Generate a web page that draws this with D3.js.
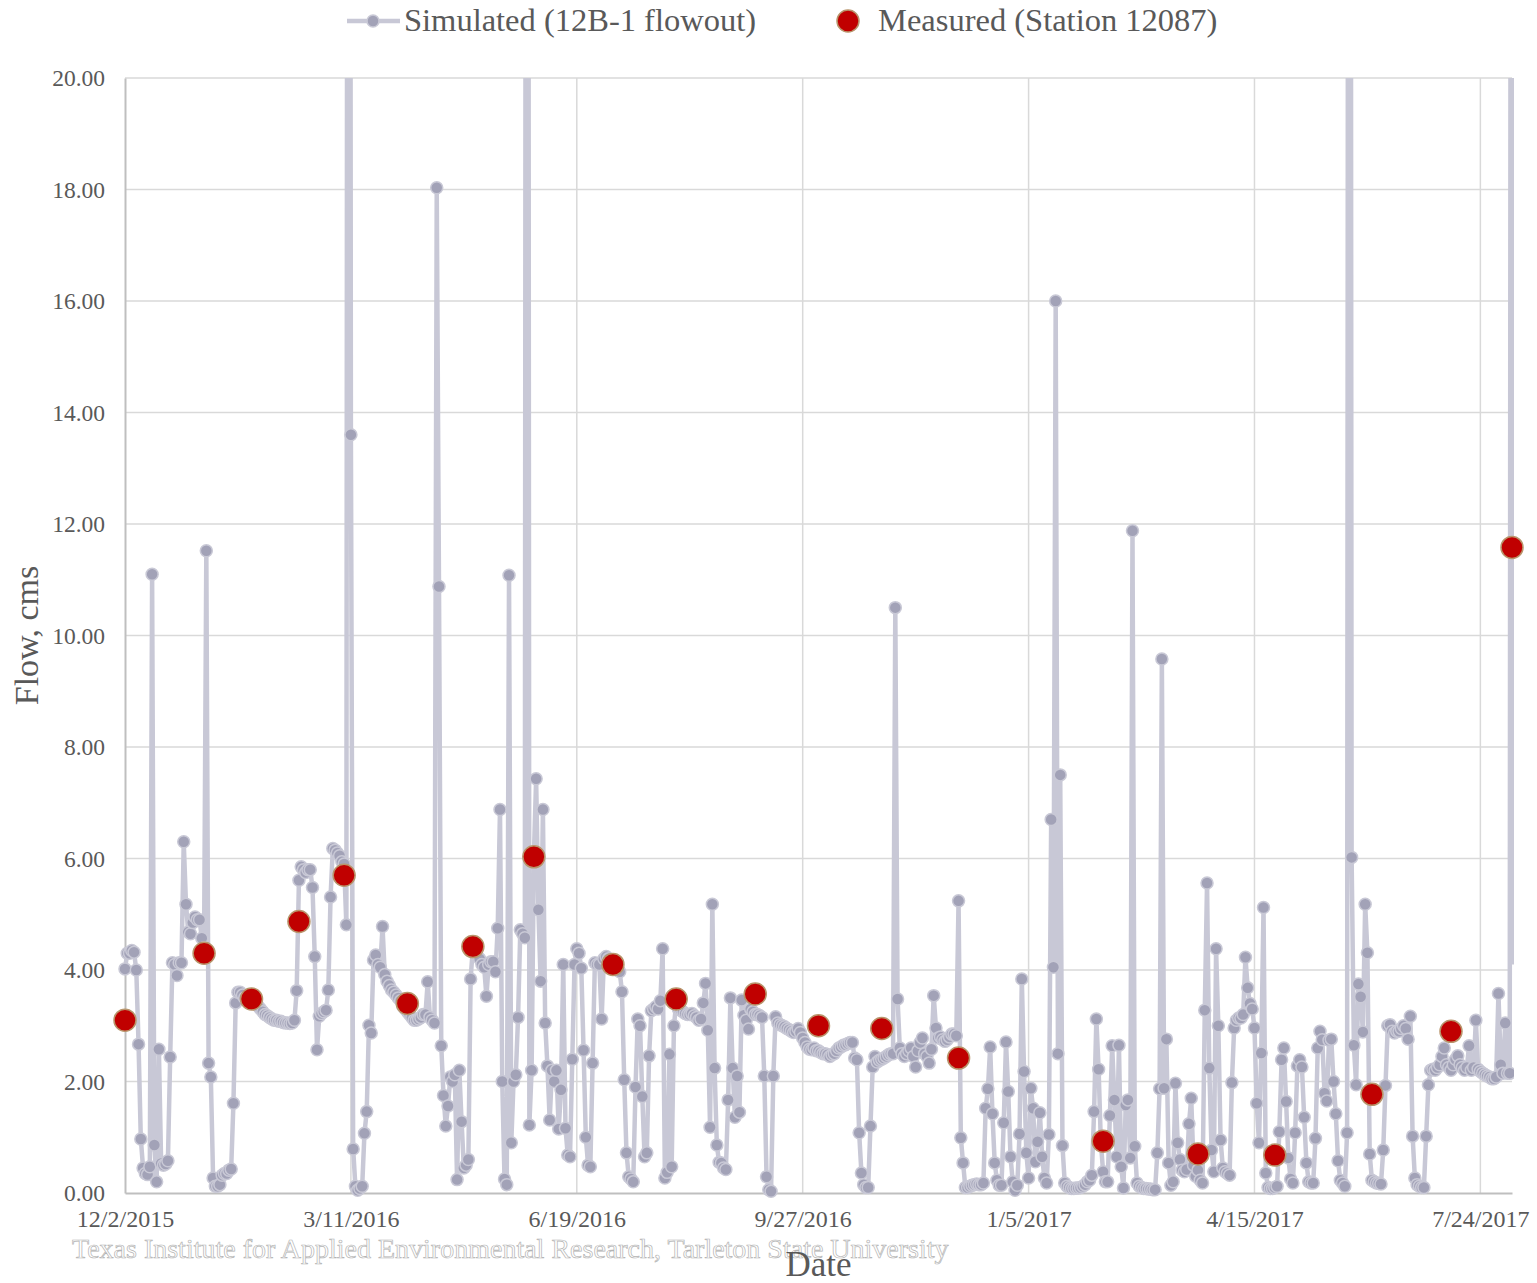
<!DOCTYPE html>
<html>
<head>
<meta charset="utf-8">
<script src="https://cdn.jsdelivr.net/npm/d3@7"></script>
<style>
  body { margin: 0; background: #fff; }
  svg { display: block; font-family: "Liberation Serif", "DejaVu Serif", serif; }
</style>
</head>
<body>
<div id="chart"></div>
<script>
// simulated daily flow (cms), one value per day starting 12/2/2015
const startDate = "12/2/2015";
const endDate = "8/7/2017";
const simFlow = [
  4.02, 4.3, 4.3, 4.35, 4.32, 4.0, 2.67, 0.97, 0.45, 0.35,
  0.33, 0.47, 11.1, 0.86, 0.2, 2.58, 0.53, 0.5, 0.52, 0.58,
  2.44, 4.13, 4.1, 3.9, 4.13, 4.13, 6.3, 5.18, 4.68, 4.65,
  4.85, 4.95, 4.9, 4.9, 4.57, 4.4, 11.52, 2.33, 2.08, 0.27,
  0.12, 0.12, 0.15, 0.32, 0.35, 0.35, 0.41, 0.43, 1.61, 3.41,
  3.6, 3.6, 3.55, 3.5, 3.48, 3.45, 3.45, 3.42, 3.38, 3.35,
  3.3, 3.25, 3.2, 3.18, 3.15, 3.12, 3.1, 3.1, 3.08, 3.08,
  3.06, 3.05, 3.05, 3.04, 3.05, 3.1, 3.63, 5.61, 5.85, 5.8,
  5.75, 5.8, 5.8, 5.48, 4.24, 2.57, 3.17, 3.22, 3.25, 3.28,
  3.64, 5.31, 6.18, 6.15, 6.1, 6.05, 5.94, 5.9, 4.81, 60,
  13.6, 0.79, 0.12, 0.05, 0.08, 0.12, 1.07, 1.46, 3.01, 2.87,
  4.18, 4.27, 4.1, 4.05, 4.78, 3.92, 3.8, 3.72, 3.64, 3.6,
  3.55, 3.5, 3.45, 3.35, 3.3, 3.25, 3.2, 3.15, 3.1, 3.1,
  3.12, 3.15, 3.2, 3.2, 3.79, 3.15, 3.1, 3.05, 18.03, 10.88,
  2.64, 1.75, 1.2, 1.56, 2.08, 2.0, 2.12, 0.24, 2.2, 1.28,
  0.45, 0.5, 0.6, 3.84, 4.4, 4.3, 4.25, 4.2, 4.1, 4.05,
  3.53, 4.1, 4.15, 4.15, 3.97, 4.75, 6.88, 2.0, 0.25, 0.15,
  11.08, 0.9, 2.0, 2.12, 3.15, 4.72, 4.65, 4.58, 60, 1.22,
  2.2, 6.03, 7.43, 5.08, 3.8, 6.88, 3.05, 2.28, 1.31, 2.2,
  2.0, 2.2, 1.15, 1.85, 4.1, 1.16, 0.68, 0.65, 2.4, 4.1,
  4.38, 4.3, 4.03, 2.56, 1.0, 0.5, 0.47, 2.33, 4.13, 4.1,
  4.1, 3.12, 4.2, 4.24, 4.2, 4.15, 4.1, 4.05, 4.0, 3.97,
  3.61, 2.03, 0.72, 0.29, 0.25, 0.2, 1.9, 3.12, 3.0, 1.73,
  0.65, 0.72, 2.46, 3.27, 3.3, 3.34, 3.3, 3.45, 4.38, 0.27,
  0.37, 2.49, 0.47, 3.0, 3.4, 3.3, 3.28, 3.25, 3.22, 3.2,
  3.2, 3.22, 3.18, 3.15, 3.1, 3.12, 3.41, 3.76, 2.92, 1.18,
  5.18, 2.24, 0.86, 0.55, 0.54, 0.45, 0.42, 1.67, 3.5, 2.24,
  1.36, 2.1, 1.45, 3.46, 3.19, 3.1, 2.94, 3.3, 3.25, 3.2,
  3.2, 3.18, 3.15, 2.1, 0.29, 0.06, 0.03, 2.1, 3.16, 3.05,
  3.02, 3.0, 2.98, 2.95, 2.93, 2.9, 2.88, 2.9, 2.95, 2.88,
  2.78, 2.7, 2.62, 2.58, 2.57, 2.6, 2.55, 2.55, 2.52, 2.5,
  2.5, 2.48, 2.45, 2.48, 2.5, 2.55, 2.6, 2.62, 2.65, 2.66,
  2.68, 2.7, 2.7, 2.42, 2.39, 1.08, 0.36, 0.15, 0.1, 0.1,
  1.2, 2.26, 2.45, 2.35, 2.38, 2.4, 2.42, 2.45, 2.48, 2.5,
  2.5, 10.5, 3.48, 2.6, 2.5, 2.45, 2.5, 2.55, 2.6, 2.45,
  2.26, 2.55, 2.7, 2.78, 2.5, 2.45, 2.33, 2.58, 3.54, 2.96,
  2.78, 2.8, 2.75, 2.72, 2.75, 2.8, 2.85, 2.85, 2.82, 5.24,
  0.99, 0.54, 0.1, 0.1, 0.12, 0.14, 0.15, 0.16, 0.15, 0.15,
  0.18, 1.52, 1.87, 2.62, 1.42, 0.54, 0.23, 0.14, 0.14, 1.26,
  2.71, 1.82, 0.65, 0.2, 0.05, 0.14, 1.06, 3.84, 2.18, 0.72,
  0.27, 1.88, 1.52, 0.56, 0.92, 1.44, 0.65, 0.27, 0.18, 1.05,
  6.7, 4.05, 16.0, 2.5, 7.5, 0.85, 0.18, 0.12, 0.1, 0.08,
  0.08, 0.09, 0.09, 0.1, 0.12, 0.15, 0.2, 0.23, 0.32, 1.46,
  3.12, 2.22, 0.9, 0.38, 0.2, 0.2, 1.39, 2.64, 1.67, 0.65,
  2.65, 0.47, 0.09, 1.58, 1.67, 0.63, 11.88, 0.84, 0.18, 0.12,
  0.1, 0.08, 0.08, 0.07, 0.07, 0.06, 0.06, 0.72, 1.87, 9.58,
  1.88, 2.76, 0.54, 0.14, 0.2, 1.97, 0.9, 0.6, 0.41, 0.38,
  0.42, 1.24, 1.7, 0.5, 0.3, 0.41, 0.23, 0.18, 3.28, 5.56,
  2.24, 0.77, 0.38, 4.38, 3.0, 0.95, 0.45, 0.38, 0.35, 0.32,
  1.98, 2.96, 3.1, 3.14, 3.14, 3.2, 4.23, 3.68, 3.4, 3.3,
  2.96, 1.61, 0.9, 2.51, 5.12, 0.36, 0.1, 0.08, 0.08, 0.1,
  0.12, 1.1, 2.39, 2.6, 1.64, 0.63, 0.25, 0.18, 1.08, 2.28,
  2.39, 2.26, 1.36, 0.54, 0.2, 0.18, 0.18, 0.98, 2.6, 2.9,
  2.75, 1.79, 1.65, 2.74, 2.76, 2.0, 1.42, 0.58, 0.23, 0.18,
  0.12, 1.08, 60, 6.02, 2.65, 1.94, 3.75, 3.52, 2.89, 5.18,
  4.31, 0.7, 0.23, 0.2, 0.18, 0.17, 0.16, 0.77, 1.93, 3.0,
  3.02, 2.9, 2.87, 2.9, 2.9, 2.95, 3.0, 2.95, 2.76, 3.17,
  1.02, 0.27, 0.15, 0.12, 0.1, 0.1, 1.02, 1.94, 2.2, 2.22,
  2.2, 2.25, 2.3, 2.45, 2.6, 2.3, 2.25, 2.2, 2.3, 2.4,
  2.46, 2.3, 2.25, 2.2, 2.25, 2.64, 2.2, 2.25, 3.1, 2.22,
  2.18, 2.15, 2.12, 2.1, 2.08, 2.05, 2.05, 2.08, 3.58, 2.3,
  2.15, 3.05, 2.15, 2.15, 60, 4.1
];

// measured flow at station 12087
const measDates = ["12/2/2015", "1/6/2016", "1/27/2016", "2/17/2016", "3/8/2016",
  "4/5/2016", "5/4/2016", "5/31/2016", "7/5/2016", "8/2/2016", "9/6/2016",
  "10/4/2016", "11/1/2016", "12/5/2016", "2/7/2017", "3/21/2017", "4/24/2017",
  "6/6/2017", "7/11/2017", "8/7/2017"];
const measFlow = [3.1, 4.3, 3.48, 4.87, 5.7, 3.4, 4.42, 6.03, 4.1, 3.48, 3.57,
  3.0, 2.95, 2.42, 0.93, 0.7, 0.68, 1.77, 2.9, 11.58];

const xTickLabels = ["12/2/2015", "3/11/2016", "6/19/2016", "9/27/2016",
  "1/5/2017", "4/15/2017", "7/24/2017"];
const yTicks = [0, 2, 4, 6, 8, 10, 12, 14, 16, 18, 20];

const W = 1537, H = 1283;
const margin = {left: 125, right: 1512, top: 78, bottom: 1193};
const gridColor = '#d9d9d9';
const textColor = '#595959';

const parse = d3.utcParse('%m/%d/%Y');
const t0 = parse(startDate);
const sim = simFlow.map((v, i) => ({date: d3.utcDay.offset(t0, i), v: v}));
const meas = measDates.map((d, i) => ({date: parse(d), v: measFlow[i]}));

const x = d3.scaleUtc()
      .domain([t0, parse(endDate)])
      .range([margin.left, margin.right]);
const y = d3.scaleLinear()
      .domain([0, 20])
      .range([margin.bottom, margin.top]);

const svg = d3.select('#chart')
      .append('svg')
      .attr('width', W)
      .attr('height', H);

svg.append('clipPath').attr('id', 'plotclip')
    .append('rect')
    .attr('x', margin.left - 10)
    .attr('y', margin.top)
    .attr('width', margin.right - margin.left + 12)
    .attr('height', margin.bottom - margin.top + 20);

// grid
svg.append('g')
    .selectAll('line')
    .data(yTicks.slice(1))
    .join('line')
    .attr('x1', margin.left).attr('x2', margin.right)
    .attr('y1', d => y(d)).attr('y2', d => y(d))
    .attr('stroke', gridColor).attr('stroke-width', 1.5);

svg.append('g')
    .selectAll('line')
    .data(xTickLabels.slice(1))
    .join('line')
    .attr('x1', d => x(parse(d))).attr('x2', d => x(parse(d)))
    .attr('y1', margin.top).attr('y2', margin.bottom)
    .attr('stroke', gridColor).attr('stroke-width', 1.5);

// axes
const yAxis = d3.axisLeft(y)
      .tickValues(yTicks)
      .tickFormat(d3.format('.2f'))
      .tickSize(0)
      .tickPadding(20);
const yAxisG = svg.append('g')
      .attr('transform', `translate(${margin.left},0)`)
      .call(yAxis);

const xAxis = d3.axisBottom(x)
      .tickValues(xTickLabels.map(parse))
      .tickFormat((d, i) => xTickLabels[i])
      .tickSize(0)
      .tickPadding(17);
const xAxisG = svg.append('g')
      .attr('transform', `translate(0,${margin.bottom})`)
      .call(xAxis);

[yAxisG, xAxisG].forEach(g => {
    g.select('.domain').attr('stroke', '#bfbfbf').attr('stroke-width', 2);
    g.selectAll('text')
        .attr('fill', textColor)
        .style('font-size', '23.5px')
        .style('font-family', '"Liberation Serif", serif');
});
xAxisG.selectAll('text').style('font-size', '24px');

// simulated series
const plot = svg.append('g').attr('clip-path', 'url(#plotclip)');

const line = d3.line()
      .x(d => x(d.date))
      .y(d => y(d.v));

plot.append('path')
    .datum(sim)
    .attr('d', line)
    .attr('fill', 'none')
    .attr('stroke', '#c8c8d6')
    .attr('stroke-width', 4.5)
    .attr('stroke-linejoin', 'round');

plot.selectAll('circle.sim')
    .data(sim.filter(d => d.date <= x.domain()[1]))
    .join('circle')
    .attr('class', 'sim')
    .attr('cx', d => x(d.date))
    .attr('cy', d => y(d.v))
    .attr('r', 6)
    .attr('fill', '#a2a2b7')
    .attr('stroke', '#c9c9d6')
    .attr('stroke-width', 1.5);

// measured
svg.append('g')
    .selectAll('circle')
    .data(meas)
    .join('circle')
    .attr('cx', d => x(d.date))
    .attr('cy', d => y(d.v))
    .attr('r', 11)
    .attr('fill', '#c00000')
    .attr('stroke', '#b8956c')
    .attr('stroke-width', 1.5);

// axis titles and credit
svg.append('text')
    .attr('transform', `translate(38,${(margin.top + margin.bottom) / 2}) rotate(-90)`)
    .attr('text-anchor', 'middle')
    .attr('fill', textColor)
    .style('font-size', '34px')
    .text('Flow, cms');

svg.append('text')
    .attr('x', 72).attr('y', 1258)
    .attr('fill', '#fff')
    .attr('stroke', '#b3b3b3')
    .attr('stroke-width', 0.7)
    .style('font-size', '28px')
    .text('Texas Institute for Applied Environmental Research, Tarleton State University');

svg.append('text')
    .attr('x', (margin.left + margin.right) / 2).attr('y', 1276)
    .attr('text-anchor', 'middle')
    .attr('fill', textColor)
    .style('font-size', '35px')
    .text('Date');

// legend
const legend = svg.append('g');
legend.append('line')
    .attr('x1', 347).attr('x2', 400).attr('y1', 21).attr('y2', 21)
    .attr('stroke', '#c8c8d6').attr('stroke-width', 4.5);
legend.append('circle')
    .attr('cx', 373).attr('cy', 21).attr('r', 6)
    .attr('fill', '#a2a2b7').attr('stroke', '#c9c9d6').attr('stroke-width', 1.5);
legend.append('text')
    .attr('x', 404).attr('y', 31)
    .attr('fill', textColor)
    .style('font-size', '32.5px')
    .text('Simulated (12B-1 flowout)');
legend.append('circle')
    .attr('cx', 848).attr('cy', 21).attr('r', 11)
    .attr('fill', '#c00000').attr('stroke', '#b8956c').attr('stroke-width', 1.5);
legend.append('text')
    .attr('x', 878).attr('y', 31)
    .attr('fill', textColor)
    .style('font-size', '32.5px')
    .text('Measured (Station 12087)');
</script>
</body>
</html>
